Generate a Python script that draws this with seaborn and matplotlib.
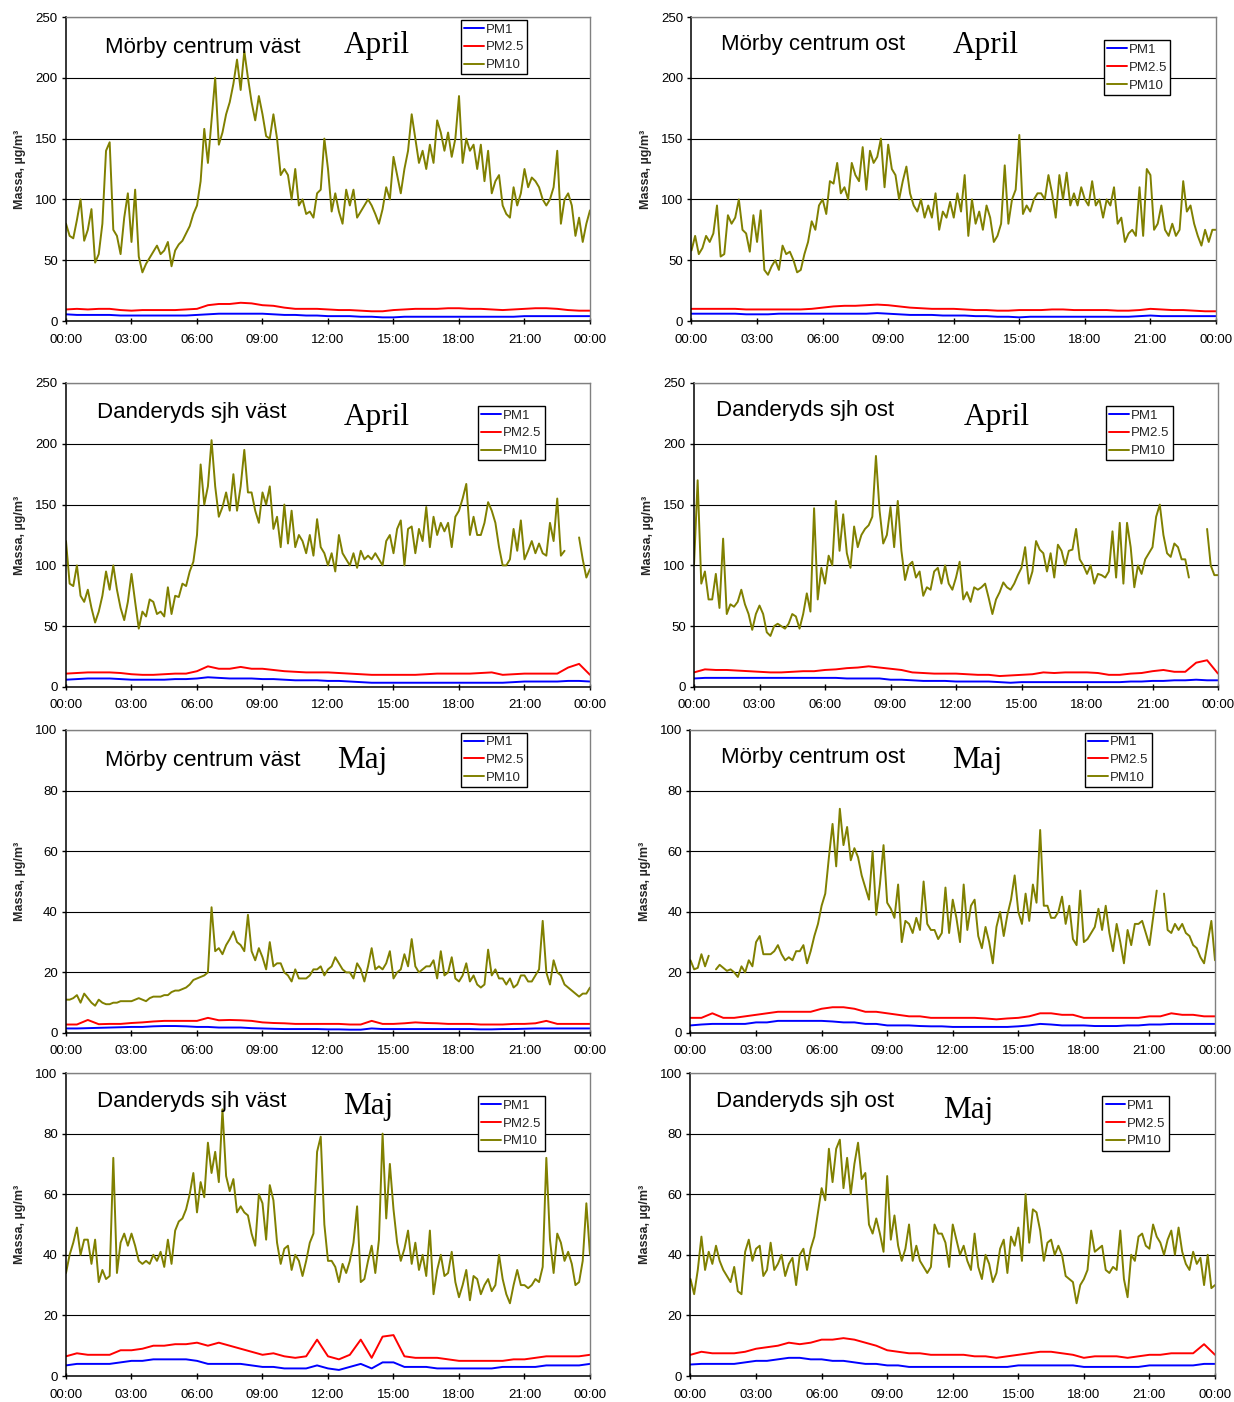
import numpy as np
import pandas as pd
import matplotlib
matplotlib.use("Agg")
import matplotlib.pyplot as plt
import seaborn as sns

sns.set_theme(style="white")
plt.rcParams['font.family'] = ['Liberation Sans', 'DejaVu Sans']

nan = np.nan

# ---------------- data (PM10: 10-minute values, PM1/PM2.5: 30-minute values) -------------
SERIES_NAMES = ["PM1", "PM2.5", "PM10"]
XTICK_LABELS = ["00:00", "03:00", "06:00", "09:00", "12:00", "15:00", "18:00", "21:00", "00:00"]
STATIONS = ["Mörby centrum väst", "Mörby centrum ost", "Danderyds sjh väst", "Danderyds sjh ost",
            "Mörby centrum väst", "Mörby centrum ost", "Danderyds sjh väst", "Danderyds sjh ost"]
MONTHS = ["April", "April", "April", "April", "Maj", "Maj", "Maj", "Maj"]
YMAX = [250, 250, 250, 250, 100, 100, 100, 100]
YLABEL = "Massa, µg/m³"

# Panel 1: Mörby centrum väst, April
p1_pm10 = [80,70,68,83,100,66, 75,92,48,55,80,140, 147,75,70,55,85,105, 65,108,53,40,47,52,
           57,62,55,58,65,45, 58,63,66,72,78,88, 95,115,158,130,165,200, 145,155,170,180,195,215,
           190,222,200,180,165,185, 170,152,150,170,150,120, 125,120,100,125,95,100, 88,90,85,105,108,150,
           125,90,105,90,80,108, 95,108,85,90,95,100, 95,88,80,92,110,100, 135,120,105,125,140,170,
           150,130,140,125,145,130, 165,155,140,155,135,150, 185,130,150,140,145,125, 145,115,140,105,115,120,
           95,88,85,110,95,105, 125,110,118,115,110,100, 95,100,110,140,80,100, 105,95,70,85,65,80, 91]
p1_pm25 = [9.5,10,9.5,10,10,9,8.5,9, 9,9,9,9.5,10,13,14,14, 15,14.5,13,12.5,11,10,10,10,
           9.5,9,9,8.5,8,8,9,9.5, 10,10,10,10.5,10.5,10,10,9.5, 9,9.5,10,10.5,10.5,10,9,8.5, 8.5]
p1_pm1 = [5.5,5,5,5,5,4.5,4.5,4.5, 4.5,4.5,4.5,4.5,5,5.5,6,6, 6,6,6,5.5,5,5,4.5,4.5,
          4,4,4,3.5,3.5,3,3,3.5, 3.5,3.5,3.5,3.5,3.5,3.5,3.5,3.5, 3.5,3.5,4,4,4,4,4,4, 4]

# Panel 2: Mörby centrum ost, April
p2_pm10 = [58,70,55,60,70,65, 72,95,53,55,87,80, 85,100,75,72,57,87, 65,91,42,38,45,50,
           42,62,55,57,50,40, 42,55,65,82,75,95, 100,88,115,113,130,105, 110,100,130,120,115,143,
           108,140,130,135,150,110, 145,125,120,100,115,127, 105,95,90,100,85,95, 85,105,75,90,85,98,
           85,105,90,120,70,100, 80,90,75,95,85,65, 70,80,128,80,100,108, 153,88,95,90,100,105,
           105,100,120,105,85,120, 100,122,95,105,95,110, 100,95,115,95,100,85, 100,95,110,80,85,65,
           72,75,70,110,70,125, 120,75,80,95,75,70, 80,70,75,115,90,95, 80,70,62,75,65,75, 75]
p2_pm25 = [10,10,10,10,10,9.5,9.5,9.5, 9.5,9.5,9.5,10,11,12,12.5,12.5, 13,13.5,13,12,11,10.5,10,10,
           10,9.5,9,9,8.5,8.5,9,9, 9,9.5,9.5,9,9,9,9,8.5, 8.5,9,10,9.5,9,9,8.5,8, 8]
p2_pm1 = [6,6,6,6,6,5.5,5.5,5.5, 6,6,6,6,6,6,6,6, 6,6.5,6,5.5,5,5,5,4.5,
          4.5,4.5,4,4,3.5,3.5,3,3.5, 3.5,3.5,3.5,3.5,3.5,3.5,3.5,3.5, 3.5,4,4.5,4,4,4,4,4, 4]

# Panel 3: Danderyds sjh väst, April
p3_pm10 = [120,85,83,100,75,70, 80,65,53,62,75,95, 80,100,80,65,55,70, 93,70,48,62,58,72,
           70,60,62,58,82,60, 75,74,85,83,95,103, 125,183,150,165,203,165, 140,148,160,145,175,145,
           165,195,160,160,145,135, 160,150,165,130,140,115, 150,118,145,115,125,120, 110,125,108,138,115,110,
           100,110,95,125,110,105, 100,110,98,112,105,108, 105,110,105,100,120,125, 110,130,137,100,130,132,
           110,130,120,148,115,140, 125,135,128,135,115,140, 145,155,167,125,140,125, 125,135,152,145,135,115,
           100,100,105,130,112,137, 105,112,120,110,118,110, 108,135,120,155,108,112, nan,nan,nan,123,105,90, 97]
p3_pm25 = [11,11.5,12,12,12,11.5,10.5,10, 10,10.5,11,11,13,17,15,15, 16.5,15,15,14,13,12.5,12,12,
           12,11.5,11,10.5,10,10,10,10, 10,10.5,11,11,11,11,11.5,12, 10,10.5,11,11,11,11,16,19, 10]
p3_pm1 = [6,6.5,7,7,7,6.5,6,6, 6,6,6.5,6.5,7,8,7.5,7, 7,7,6.5,6.5,6,5.5,5.5,5.5,
          5,5,4.5,4,3.5,3.5,3.5,3.5, 3.5,3.5,3.5,3.5,3.5,3.5,3.5,3.5, 3.5,4,4.5,4.5,4.5,4.5,5,5, 4.5]

# Panel 4: Danderyds sjh ost, April
p4_pm10 = [100,170,85,95,72,72, 93,65,122,60,68,66, 70,80,68,60,47,60, 67,60,45,42,50,52,
           50,48,52,60,58,48, 60,77,62,147,72,98, 85,108,100,153,112,142, 110,98,132,115,125,130,
           133,140,190,145,118,125, 148,115,153,112,88,100, 103,90,95,75,82,80, 95,98,85,100,85,80,
           90,103,72,78,70,82, 80,82,85,73,60,72, 78,86,82,80,85,92, 98,115,85,95,120,113,
           110,95,110,90,117,112, 100,112,113,130,105,100, 93,100,85,93,92,90, 95,128,90,135,85,135,
           115,82,100,93,105,110, 115,140,150,125,110,107, 118,115,105,105,90,nan, nan,nan,nan,130,100,92, 92]
p4_pm25 = [12,14.5,14,14,13.5,13,12.5,12, 12,12.5,13,13,14,14.5,15.5,16, 17,16,15,14,12,11.5,11,11,
           11,10.5,10,10,9,9.5,10,10.5, 12,11.5,12,12,12,11.5,10,10, 11,11.5,13,14,12.5,12.5,20,22, 11]
p4_pm1 = [7,7.5,7.5,7.5,7.5,7.5,7.5,7.5, 7.5,7.5,7.5,7.5,7.5,7.5,7,7, 7,7,6,6,5.5,5,5,5,
          4.5,4.5,4.5,4.5,4,3.5,4,4, 4,4,4,4,4,4,4,4, 4.5,4.5,5,5,5.5,5.5,6,5.5, 5.5]

# Panel 5: Mörby centrum väst, Maj
p5_pm10 = [11,11,11.5,12.5,10,13, 11.5,10,9,11,10,9.5, 9.5,10,10,10.5,10.5,10.5, 10.5,11,11.5,11,10.5,11.5,
           12,12,12,12.5,12.5,13.5, 14,14,14.5,15,16,17.5, 18,18.5,19,20,41.5,27, 28,26,29,31,33.5,30,
           29,27,39,27,24,28, 25,21,30,22,23,23, 20,19,17,21,18,18, 18,19,21,21,22,19,
           21,22,25,23,21,20, 20,18,23,21,17,22, 28,21,22,21,23,27, 18,20,21,26,22,31,
           22,20,21,22,22,24, 18,27,19,20,25,18, 17,19,23,17,19,16, 15,16,27.5,19,21,18,
           18,16,18,15,16,19, 19,17,17,19,21,37, 20,16,24,20,19,16, 15,14,13,12,13,13, 15]
p5_pm25 = [2.8,2.8,4.3,2.9,3,3,3.3,3.5, 3.8,4,4,4,4,5,4.2,4.3, 4.2,4,3.5,3.3,3.2,3,3,3,
           3,3,2.8,2.8,4,3,3,3.2, 3.5,3.3,3.2,3,3,3,2.8,2.8, 2.8,3,3,3.2,4,3,3,3, 3]
p5_pm1 = [1.5,1.5,1.6,1.7,1.8,1.9,2,2, 2.2,2.3,2.3,2.2,2,2,1.8,1.8, 1.8,1.6,1.5,1.4,1.3,1.3,1.3,1.3,
          1.2,1.2,1.1,1.1,1.5,1.3,1.3,1.3, 1.3,1.3,1.3,1.3,1.3,1.3,1.2,1.2, 1.3,1.3,1.4,1.5,1.5,1.5,1.5,1.5, 1.5]

# Panel 6: Mörby centrum ost, Maj
p6_pm10 = [24,21,21.5,26,22,25.5, nan,21,22.5,21.5,20.5,21, 20,18.5,22,20,24,22, 30,32,26,26,26,27,
           29,26,24,25,24,27, 27,29,23,27,32,36, 42,46,58,69,55,74, 62,68,57,61,58,52,
           48,44,60,39,49,62, 43,41,38,49,30,37, 36,33,38,34,50,36, 34,34,31,33,48,33,
           44,38,30,49,34,42, 44,32,28,35,30,23, 35,40,32,39,44,52, 40,36,46,37,49,43,
           67,42,42,38,38,40, 45,36,42,31,29,47, 30,31,33,35,41,34, 42,33,27,36,30,23,
           34,29,36,36,37,33, 29,38,47,nan,46,34, 33,36,34,36,33,32, 29,28,25,23,30,37, 24]
p6_pm25 = [5,5,6.5,5,5,5.5,6,6.5, 7,7,7,7,8,8.5,8.5,8, 7,7,6.5,6,5.5,5.5,5,5,
           5,5,5,4.8,4.5,4.8,5,5.5, 6.5,6.5,6,6,5,5,5,5, 5,5,5.5,5.5,6.5,6,6,5.5, 5.5]
p6_pm1 = [2.5,2.8,3,3,3,3,3.5,3.5, 4,4,4,4,4,3.8,3.5,3.5, 3,3,2.5,2.5,2.5,2.3,2.2,2.2,
          2,2,2,2,2,2,2.2,2.5, 3,2.8,2.5,2.5,2.5,2.3,2.3,2.3, 2.5,2.5,2.8,2.8,3,3,3,3, 3]

# Panel 7: Danderyds sjh väst, Maj
p7_pm10 = [34,40,44,49,40,45, 45,37,45,31,35,32, 33,72,34,44,47,43, 47,43,38,37,38,37,
           40,38,41,36,45,37, 48,51,52,55,60,67, 54,64,59,77,67,74, 64,88,66,61,65,54,
           56,54,53,47,43,60, 57,45,63,58,44,37, 42,43,35,40,38,33, 38,44,47,74,79,50,
           38,38,36,31,37,34, 38,44,56,31,32,38, 43,34,45,80,52,70, 55,44,38,42,48,37,
           44,35,40,33,48,27, 35,40,33,34,41,31, 26,30,35,25,33,32, 27,30,32,28,30,40,
           32,27,24,30,35,30, 30,29,30,32,31,36, 72,45,34,47,44,38, 41,37,30,31,38,57, 40]
p7_pm25 = [6.5,7.5,7,7,7,8.5,8.5,9, 10,10,10.5,10.5,11,10,11,10, 9,8,7,7.5,6.5,6,6.5,12,
           6.5,5.5,7,12,6,13,13.5,6.5, 6,6,6,5.5,5,5,5,5, 5,5.5,5.5,6,6.5,6.5,6.5,6.5, 7]
p7_pm1 = [3.5,4,4,4,4,4.5,5,5, 5.5,5.5,5.5,5.5,5,4,4,4, 4,3.5,3,3,2.5,2.5,2.5,3.5,
          2.5,2,3,4,2.5,4.5,4.5,3, 3,3,2.5,2.5,2.5,2.5,2.5,2.5, 3,3,3,3,3.5,3.5,3.5,3.5, 4]

# Panel 8: Danderyds sjh ost, Maj
p8_pm10 = [32,27,35,46,35,41, 37,43,38,35,33,31, 36,28,27,41,45,38, 42,43,33,35,44,35,
           37,40,33,37,39,30, 40,42,35,42,46,54, 62,58,75,64,75,78, 62,72,60,70,77,65,
           67,50,47,52,47,41, 66,45,53,43,38,42, 50,38,43,38,36,34, 36,50,47,47,44,36,
           50,45,40,43,38,35, 47,36,32,40,37,31, 34,42,45,34,46,43, 49,38,60,44,55,54,
           48,38,44,45,40,43, 40,33,32,31,24,30, 32,35,48,41,42,43, 35,34,36,35,48,32,
           26,40,38,46,47,43, 42,50,46,44,40,45, 48,40,49,41,37,35, 41,37,39,30,40,29, 30]
p8_pm25 = [7,8,7.5,7.5,7.5,8,9,9.5, 10,11,10.5,11,12,12,12.5,12, 11,10,8.5,8,7.5,7.5,7,7,
           7,7,6.5,6.5,6,6.5,7,7.5, 8,8,7.5,7,6,6.5,6.5,6.5, 6,6.5,7,7,7.5,7.5,7.5,10.5, 7]
p8_pm1 = [3.8,4,4,4,4,4.5,5,5, 5.5,6,6,5.5,5.5,5,5,4.5, 4,4,3.5,3.5,3,3,3,3,
          3,3,3,3,3,3,3.5,3.5, 3.5,3.5,3.5,3.5,3,3,3,3, 3,3,3.5,3.5,3.5,3.5,3.5,4, 4]

PANEL_DATA = [
    (p1_pm1, p1_pm25, p1_pm10), (p2_pm1, p2_pm25, p2_pm10),
    (p3_pm1, p3_pm25, p3_pm10), (p4_pm1, p4_pm25, p4_pm10),
    (p5_pm1, p5_pm25, p5_pm10), (p6_pm1, p6_pm25, p6_pm10),
    (p7_pm1, p7_pm25, p7_pm10), (p8_pm1, p8_pm25, p8_pm10),
]

# ---------------- layout / style ----------------
PALETTE = {"PM1": "#0000FF", "PM2.5": "#FF0000", "PM10": "#808000"}
AX_POS = [
    (0.05348, 0.77104, 0.42464, 0.21683), (0.56037, 0.77104, 0.42504, 0.21683),
    (0.05348, 0.50999, 0.42464, 0.21683), (0.56240, 0.50999, 0.42464, 0.21683),
    (0.05348, 0.26320, 0.42464, 0.21612), (0.55956, 0.26320, 0.42504, 0.21612),
    (0.05348, 0.01854, 0.42464, 0.21612), (0.55956, 0.01854, 0.42504, 0.21612),
]
LEG_POS = [(0.753, 0.990), (0.786, 0.923), (0.786, 0.924), (0.786, 0.924),
           (0.753, 0.991), (0.752, 0.991), (0.786, 0.923), (0.785, 0.923)]
STATION_POS = [(0.074, 0.882), (0.056, 0.891), (0.060, 0.886), (0.042, 0.892),
               (0.074, 0.882), (0.058, 0.890), (0.060, 0.888), (0.048, 0.888)]
MONTH_POS = [(0.530, 0.882), (0.498, 0.880), (0.530, 0.862), (0.515, 0.862),
             (0.5175, 0.876), (0.4986, 0.876), (0.529, 0.866), (0.482, 0.851)]


def long_frame(pm1, pm25, pm10):
    frames = []
    for name, vals in zip(SERIES_NAMES, (pm1, pm25, pm10)):
        v = np.asarray(vals, dtype=float)
        t = np.linspace(0, 24, len(v))
        seg = np.cumsum(np.isnan(v))
        ok = ~np.isnan(v)
        frames.append(pd.DataFrame({
            "time": t[ok], "value": v[ok], "series": name,
            "seg": [f"{name}-{s}" for s in seg[ok]],
        }))
    return pd.concat(frames, ignore_index=True)


fig = plt.figure(figsize=(12.34, 14.02), dpi=100, facecolor="white")

for i, (pm1, pm25, pm10) in enumerate(PANEL_DATA):
    ax = fig.add_axes(AX_POS[i])
    ax.set_facecolor("white")
    df = long_frame(pm1, pm25, pm10)
    sns.lineplot(data=df, x="time", y="value", hue="series", units="seg",
                 estimator=None, sort=False, hue_order=SERIES_NAMES,
                 palette=PALETTE, linewidth=1.4, ax=ax, legend=True)

    ymax = YMAX[i]
    ax.set_xlim(0, 24)
    ax.set_ylim(0, ymax)
    ax.set_xticks(np.arange(0, 25, 3))
    ax.set_xticklabels(XTICK_LABELS)
    ax.set_yticks(np.linspace(0, ymax, 6))
    ax.set_yticklabels([f"{int(v)}" for v in np.linspace(0, ymax, 6)])
    ax.tick_params(axis="x", direction="inout", length=4, width=1, labelsize=9.5,
                   pad=7, bottom=True, colors="black")
    ax.tick_params(axis="y", direction="out", length=3, width=1, labelsize=9.5,
                   pad=3, left=True, colors="black")
    ax.yaxis.grid(True, color="black", linewidth=0.8)
    ax.xaxis.grid(False)
    ax.set_axisbelow(True)

    for side in ("left", "bottom"):
        ax.spines[side].set_color("black")
        ax.spines[side].set_linewidth(1.1)
    for side in ("top", "right"):
        ax.spines[side].set_color("#808080")
        ax.spines[side].set_linewidth(1.0)

    ax.set_xlabel("")
    ax.set_ylabel(YLABEL, fontsize=9, fontweight="bold")
    ax.yaxis.set_label_coords(-0.076, 0.5)

    old = ax.get_legend()
    handles = list(old.legend_handles)
    labels = [t.get_text() for t in old.get_texts()]
    old.remove()
    leg = ax.legend(handles, labels, loc="upper left", bbox_to_anchor=LEG_POS[i],
                    frameon=True, fancybox=False, shadow=False, edgecolor="black",
                    framealpha=1, fontsize=9.5, handlelength=1.5, handletextpad=0.15,
                    borderpad=0.25, labelspacing=0.42, borderaxespad=0)
    leg.get_frame().set_linewidth(1.0)
    for ln in leg.get_lines():
        ln.set_linewidth(1.4)

    ax.text(*STATION_POS[i], STATIONS[i], transform=ax.transAxes, ha="left",
            va="baseline", fontsize=16, color="black")
    ax.text(*MONTH_POS[i], MONTHS[i], transform=ax.transAxes, ha="left",
            va="baseline", fontsize=22.5, family=["Liberation Serif", "DejaVu Serif"],
            color="black")

fig.savefig("out.png", dpi=100, facecolor="white")
